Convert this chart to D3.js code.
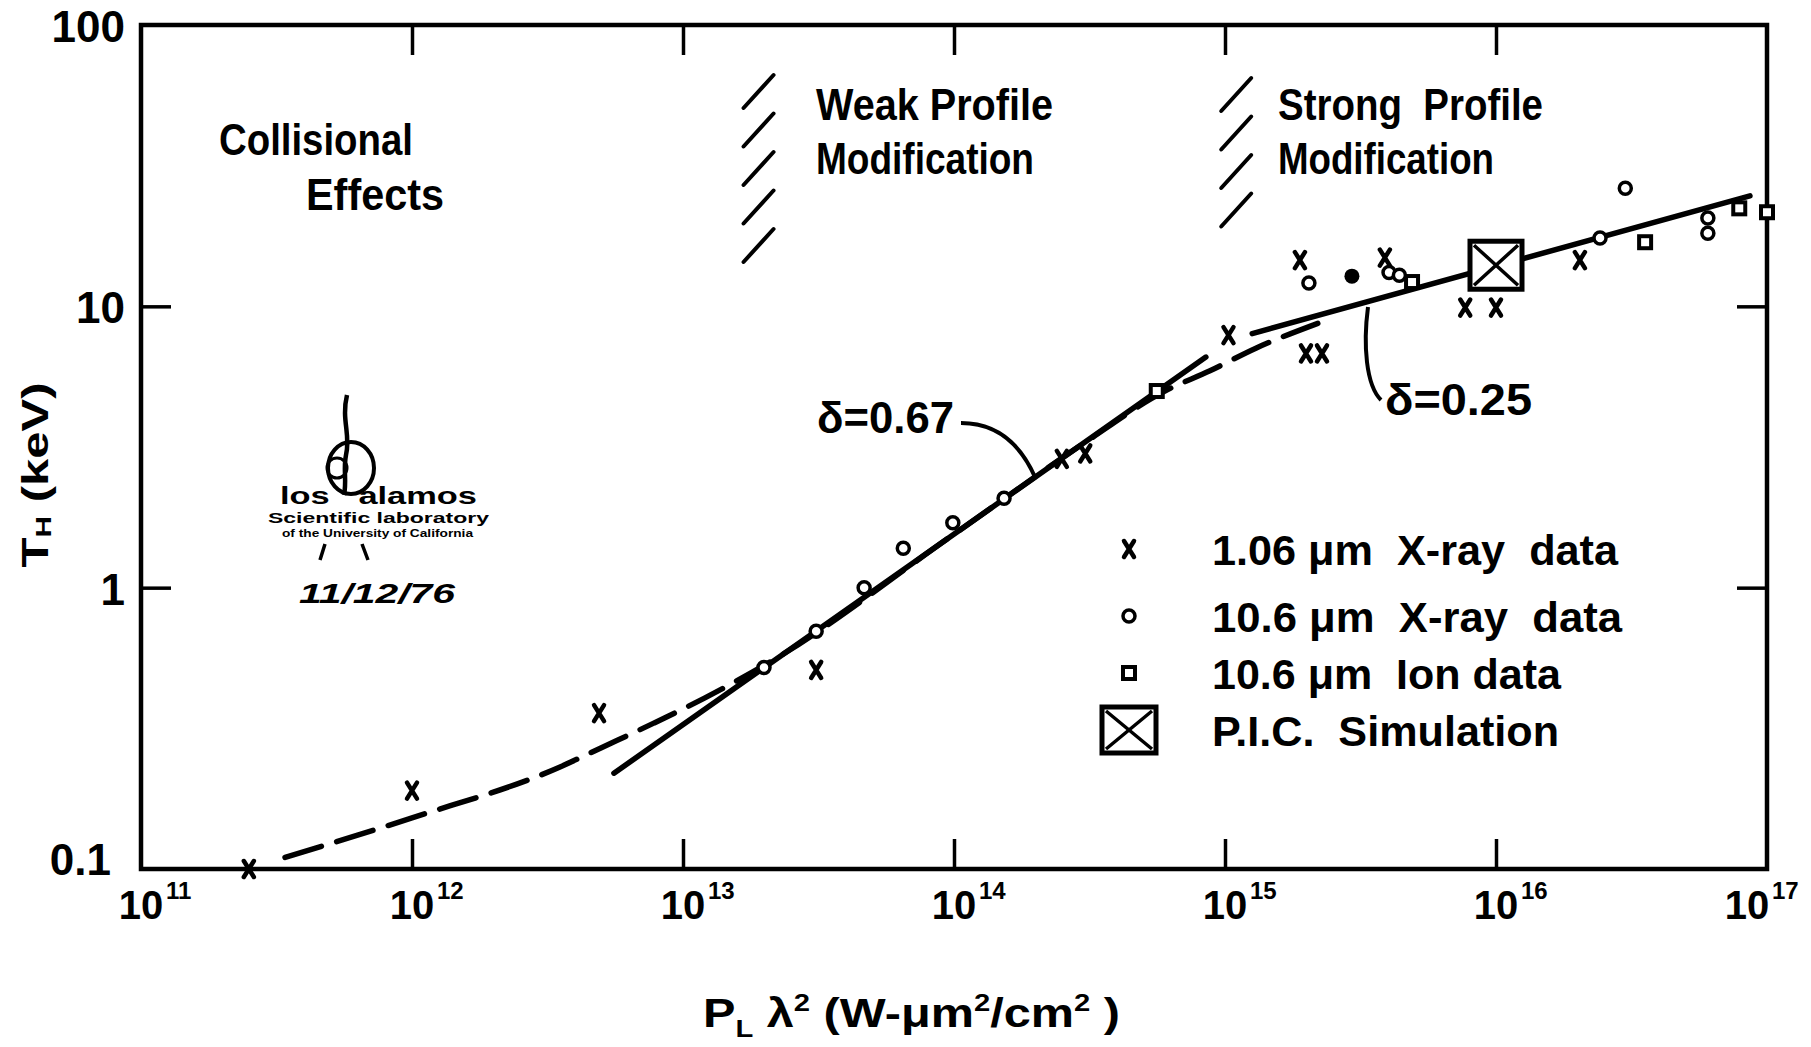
<!DOCTYPE html>
<html>
<head>
<meta charset="utf-8">
<title>T_H vs P_L lambda^2</title>
<script src="https://cdn.jsdelivr.net/npm/d3@7"></script>
<style>
  body { margin: 0; background: #fff; }
  svg text { font-family: "Liberation Sans", Arial, sans-serif; font-weight: bold; fill: #000; }
</style>
</head>
<body>
<svg id="chart" width="1811" height="1047"></svg>
<script>
// axis ticks
var xTickExps = [11, 12, 13, 14, 15, 16, 17];
var yTickVals = [0.1, 1, 10, 100];
var yTickLabels = ["0.1", "1", "10", "100"];

// 1.06 um X-ray data (x marks)  p = P_L lambda^2, t = T_H (keV)
var xray106 = [
  {p: 2.5e11, t: 0.1}, {p: 1e12, t: 0.19}, {p: 4.9e12, t: 0.358}, {p: 3.1e13, t: 0.51},
  {p: 2.5e14, t: 2.87}, {p: 3.05e14, t: 3.0}, {p: 1.03e15, t: 7.9}, {p: 1.89e15, t: 14.6},
  {p: 1.99e15, t: 6.8}, {p: 2.28e15, t: 6.8}, {p: 3.89e15, t: 14.9}, {p: 7.7e15, t: 9.9},
  {p: 1e16, t: 9.9}, {p: 2.04e16, t: 14.6}
];
// 10.6 um X-ray data (open circles)
var xray10 = [
  {p: 1.99e13, t: 0.52}, {p: 3.1e13, t: 0.70}, {p: 4.66e13, t: 1.0}, {p: 6.5e13, t: 1.38},
  {p: 9.9e13, t: 1.70}, {p: 1.53e14, t: 2.08}, {p: 2.04e15, t: 12.1}, {p: 4.03e15, t: 13.2},
  {p: 4.4e15, t: 12.9}, {p: 2.42e16, t: 17.5}, {p: 3.0e16, t: 26.3}, {p: 6.05e16, t: 20.6},
  {p: 6.05e16, t: 18.2}
];
var xray10Filled = [{p: 2.94e15, t: 12.8}];
// 10.6 um ion data (squares)
var ion10 = [
  {p: 5.6e14, t: 5.0}, {p: 4.9e15, t: 12.2}, {p: 3.55e16, t: 16.9}, {p: 7.9e16, t: 22.3},
  {p: 1e17, t: 21.6}
];
// P.I.C. simulation
var pic = [{p: 1e16, t: 14.0}];

// fitted lines
var fit067 = [{p: 5.56e12, t: 0.219}, {p: 8.5e14, t: 6.6}];
var fit025 = [{p: 1.26e15, t: 8.0}, {p: 8.65e16, t: 24.7}];
// dashed model curve
var model = [
  {p: 3.4e11, t: 0.110}, {p: 1e12, t: 0.152}, {p: 3.5e12, t: 0.23}, {p: 5e12, t: 0.27},
  {p: 7.8e12, t: 0.33}, {p: 1.2e13, t: 0.405}, {p: 2.1e13, t: 0.545}, {p: 1e14, t: 1.55},
  {p: 3e14, t: 3.25}, {p: 6e14, t: 5.0}, {p: 8.8e14, t: 5.9}, {p: 1.3e15, t: 7.1},
  {p: 2.2e15, t: 8.7}
];

var margin = {top: 25, right: 44, bottom: 178, left: 141},
    width = 1811 - margin.left - margin.right,
    height = 1047 - margin.top - margin.bottom;

var svg = d3.select("#chart")
  .append("g")
    .attr("transform", "translate(" + margin.left + "," + margin.top + ")");

var x = d3.scaleLog().domain([1e11, 1e17]).range([0, width]);
var y = d3.scaleLog().domain([0.1, 100]).range([height, 0]);

function addText(sel, px, py, str, size, len, anchor) {
  var t = sel.append("text").attr("x", px).attr("y", py).attr("font-size", size).text(str);
  if (len) t.attr("textLength", len).attr("lengthAdjust", "spacingAndGlyphs");
  if (anchor) t.attr("text-anchor", anchor);
  return t;
}

// inner ticks, drawn with d3 axes
var innerX = xTickExps.slice(1, -1).map(function(e) { return Math.pow(10, e); });
var innerY = [1, 10];
svg.append("g").attr("class", "tk")
  .call(d3.axisBottom(x).tickValues(innerX).tickSize(30).tickFormat(""));
svg.append("g").attr("class", "tk").attr("transform", "translate(0," + height + ")")
  .call(d3.axisTop(x).tickValues(innerX).tickSize(30).tickFormat(""));
svg.append("g").attr("class", "tk")
  .call(d3.axisRight(y).tickValues(innerY).tickSize(30).tickFormat(""));
svg.append("g").attr("class", "tk").attr("transform", "translate(" + width + ",0)")
  .call(d3.axisLeft(y).tickValues(innerY).tickSize(30).tickFormat(""));
svg.selectAll(".tk .domain").remove();
svg.selectAll(".tk line").attr("stroke", "#000").attr("stroke-width", 3.5);

// frame
svg.append("rect").attr("width", width).attr("height", height)
  .attr("fill", "none").attr("stroke", "#000").attr("stroke-width", 4.5);

// y tick labels
yTickVals.forEach(function(v, i) {
  addText(svg, v < 1 ? -30 : -16, y(v) + (v < 1 ? 6 : 17), yTickLabels[i], 44, null, "end");
});

// x tick labels: 10 with superscript exponent (last one pulled inside)
xTickExps.forEach(function(e, i) {
  var px = x(Math.pow(10, e)) - (i === xTickExps.length - 1 ? 20 : 0);
  addText(svg, px, height + 50, "10", 40, null, "middle");
  addText(svg, px + 25, height + 30, String(e), 24);
});

// axis titles
var xt = svg.append("text").attr("x", 562).attr("y", height + 158).attr("font-size", 40)
  .style("font-weight", 600)
  .attr("textLength", 417).attr("lengthAdjust", "spacingAndGlyphs");
xt.append("tspan").text("P");
xt.append("tspan").attr("font-size", 24).attr("dy", 10).text("L");
xt.append("tspan").attr("dy", -10).text(" \u03bb");
xt.append("tspan").attr("font-size", 24).attr("dy", -16).text("2");
xt.append("tspan").attr("dy", 16).text(" (W-\u03bcm");
xt.append("tspan").attr("font-size", 24).attr("dy", -16).text("2");
xt.append("tspan").attr("dy", 16).text("/cm");
xt.append("tspan").attr("font-size", 24).attr("dy", -16).text("2");
xt.append("tspan").attr("dy", 16).text(" )");

var yt = svg.append("text").attr("transform", "translate(-93," + (height / 2 + 28) + ") rotate(-90)")
  .attr("text-anchor", "middle").attr("font-size", 36)
  .attr("textLength", 185).attr("lengthAdjust", "spacingAndGlyphs");
yt.append("tspan").text("T");
yt.append("tspan").attr("font-size", 22).attr("dy", 3).text("H");
yt.append("tspan").attr("dy", -3).text("  (keV)");

// lines
var line = d3.line().x(function(d) { return x(d.p); }).y(function(d) { return y(d.t); });
svg.append("path").datum(model).attr("d", line.curve(d3.curveMonotoneX))
  .attr("fill", "none").attr("stroke", "#000").attr("stroke-width", 5.5)
  .attr("stroke-dasharray", "38,16").attr("stroke-linecap", "round");
line.curve(d3.curveLinear);
[fit067, fit025].forEach(function(f) {
  svg.append("path").datum(f).attr("d", line)
    .attr("fill", "none").attr("stroke", "#000").attr("stroke-width", 5.5)
    .attr("stroke-linecap", "round");
});

// markers
function xMark(g) {
  g.append("path").attr("d", "M-5,-8L5,8M5,-8L-5,8")
    .attr("stroke", "#000").attr("stroke-width", 4.5).attr("stroke-linecap", "round");
}
function circMark(g) {
  g.append("circle").attr("r", 6).attr("fill", "#fff").attr("stroke", "#000").attr("stroke-width", 3.5);
}
function dotMark(g) {
  g.append("circle").attr("r", 7.5).attr("fill", "#000");
}
function sqMark(g) {
  g.append("rect").attr("x", -6).attr("y", -6).attr("width", 12).attr("height", 12)
    .attr("fill", "#fff").attr("stroke", "#000").attr("stroke-width", 4);
}
function picMark(g, w, h) {
  g.append("rect").attr("x", -w / 2).attr("y", -h / 2).attr("width", w).attr("height", h)
    .attr("fill", "#fff").attr("stroke", "#000").attr("stroke-width", 5);
  g.append("path").attr("d", "M" + (-w / 2 + 4) + "," + (-h / 2 + 4) + "L" + (w / 2 - 4) + "," + (h / 2 - 4) +
      "M" + (w / 2 - 4) + "," + (-h / 2 + 4) + "L" + (-w / 2 + 4) + "," + (h / 2 - 4))
    .attr("stroke", "#000").attr("stroke-width", 3.5);
}
function plot(data, fn) {
  svg.selectAll(null).data(data).enter().append("g")
    .attr("transform", function(d) { return "translate(" + x(d.p) + "," + y(d.t) + ")"; })
    .each(function() { fn(d3.select(this)); });
}
plot(ion10, sqMark);
plot(xray10, circMark);
plot(xray10Filled, dotMark);
plot(xray106, xMark);
svg.selectAll(null).data(pic).enter().append("g")
  .attr("transform", function(d) { return "translate(" + x(d.p) + "," + y(d.t) + ")"; })
  .each(function() { picMark(d3.select(this), 52, 48); });

// region annotations
addText(svg, 78, 130, "Collisional", 44, 194);
addText(svg, 165, 185, "Effects", 44, 138);
addText(svg, 675, 95, "Weak Profile", 44, 237);
addText(svg, 675, 149, "Modification", 44, 218);
addText(svg, 1137, 95, "Strong\u00a0\u00a0Profile", 44, 265);
addText(svg, 1137, 149, "Modification", 44, 216);

function hatch(cx, y0, n) {
  for (var i = 0; i < n; i++) {
    var yy = y0 + i * 38.5;
    svg.append("line").attr("x1", cx - 15).attr("y1", yy + 33).attr("x2", cx + 15).attr("y2", yy)
      .attr("stroke", "#000").attr("stroke-width", 4).attr("stroke-linecap", "round");
  }
}
hatch(x(1.9e13), 50, 5);
hatch(x(1.1e15), 53, 4);

// slope labels with leaders
addText(svg, 676, 408, "\u03b4=0.67", 44, 137);
svg.append("path").attr("d", "M820,398 C860,398 882,425 894,452")
  .attr("fill", "none").attr("stroke", "#000").attr("stroke-width", 4);
addText(svg, 1244, 390, "\u03b4=0.25", 44, 147);
svg.append("path").attr("d", "M1227,282 C1222,320 1225,360 1240,375")
  .attr("fill", "none").attr("stroke", "#000").attr("stroke-width", 4);

// legend
var legRows = [
  {label: "1.06 \u03bcm\u00a0 X-ray\u00a0 data", len: 406, fn: xMark},
  {label: "10.6 \u03bcm\u00a0 X-ray\u00a0 data", len: 410, fn: circMark},
  {label: "10.6 \u03bcm\u00a0 Ion data", len: 349, fn: sqMark},
  {label: "P.I.C.\u00a0 Simulation", len: 347, fn: null}
];
var legY = [524, 591, 648, 705];
legRows.forEach(function(r, i) {
  var g = svg.append("g").attr("transform", "translate(988," + legY[i] + ")");
  if (r.fn) r.fn(g); else picMark(g, 54, 46);
  addText(svg, 1071, legY[i] + 16, r.label, 42, r.len);
});

// laboratory stamp
var logo = svg.append("g");
logo.append("path").attr("d", "M206,370 C200,395 210,410 205,430 C202,445 206,455 203,470")
  .attr("fill", "none").attr("stroke", "#000").attr("stroke-width", 4.5);
logo.append("ellipse").attr("cx", 210).attr("cy", 443).attr("rx", 23).attr("ry", 26)
  .attr("fill", "none").attr("stroke", "#000").attr("stroke-width", 4);
logo.append("circle").attr("cx", 196).attr("cy", 443).attr("r", 10)
  .attr("fill", "none").attr("stroke", "#000").attr("stroke-width", 3);
addText(logo, 139, 479, "los\u00a0\u00a0\u00a0alamos", 24, 197);
addText(logo, 127, 498, "Scientific laboratory", 14, 221);
addText(logo, 141, 512, "of the University of California", 10, 191);
logo.append("path").attr("d", "M179,535L184,519M221,519L227,535")
  .attr("stroke", "#000").attr("stroke-width", 3.5);
addText(logo, 158, 578, "11/12/76", 28, 156).style("font-style", "italic");
</script>
</body>
</html>
